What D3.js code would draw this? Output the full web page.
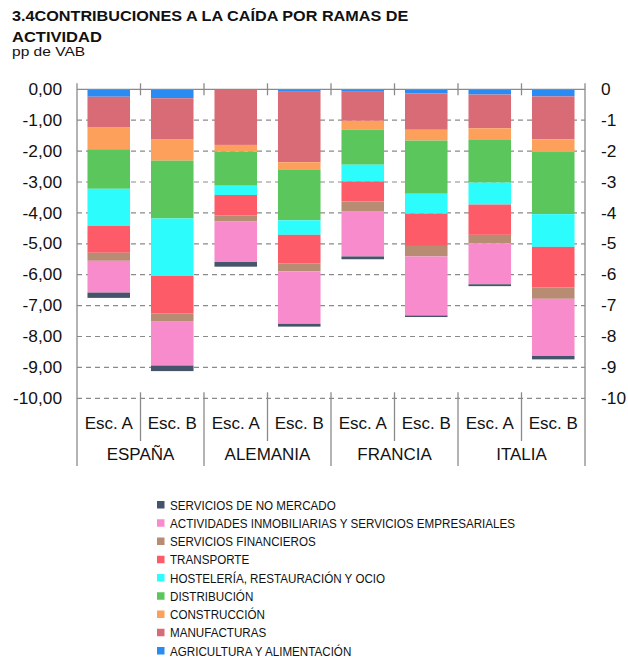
<!DOCTYPE html>
<html>
<head>
<meta charset="utf-8">
<script src="https://cdn.jsdelivr.net/npm/d3@7"></script>
<style>
  body { margin: 0; background: #fff; }
  svg { display: block; }
  text { font-family: "Liberation Sans", Arial, sans-serif; fill: #111; }
</style>
</head>
<body>
<svg id="chart" width="628" height="662"></svg>
<script>
// ---- data (pp de VAB) ----
const countries = ["ESPAÑA", "ALEMANIA", "FRANCIA", "ITALIA"];
const scenarios = ["Esc. A", "Esc. B"];

// Sectors in stacking order (from 0 downwards)
const sectors = [
  "AGRICULTURA Y ALIMENTACIÓN",
  "MANUFACTURAS",
  "CONSTRUCCIÓN",
  "DISTRIBUCIÓN",
  "HOSTELERÍA, RESTAURACIÓN Y OCIO",
  "TRANSPORTE",
  "SERVICIOS FINANCIEROS",
  "ACTIVIDADES INMOBILIARIAS Y SERVICIOS EMPRESARIALES",
  "SERVICIOS DE NO MERCADO"
];
const sectorColors = [
  "#2a8cf2", "#d96b77", "#fda05c", "#5bc65b", "#2dfcfc",
  "#fe5b69", "#b78c73", "#f88bcb", "#44546a"
];

// Contributions per bar: ES A, ES B, DE A, DE B, FR A, FR B, IT A, IT B
const agricultura    = [-0.24, -0.29, -0.02, -0.08, -0.08, -0.13, -0.17, -0.23];
const manufacturas   = [-1.00, -1.32, -1.78, -2.28, -0.94, -1.18, -1.09, -1.39];
const construccion   = [-0.70, -0.70, -0.22, -0.25, -0.29, -0.35, -0.38, -0.41];
const distribucion   = [-1.28, -1.87, -1.10, -1.63, -1.13, -1.72, -1.38, -2.01];
const hosteleria     = [-1.20, -1.86, -0.30, -0.47, -0.54, -0.64, -0.71, -1.06];
const transporte     = [-0.87, -1.21, -0.66, -0.93, -0.65, -1.05, -0.98, -1.31];
const financieros    = [-0.26, -0.27, -0.20, -0.25, -0.31, -0.34, -0.27, -0.37];
const inmobiliarias  = [-1.03, -1.42, -1.31, -1.70, -1.47, -1.91, -1.33, -1.85];
const noMercado      = [-0.17, -0.18, -0.15, -0.09, -0.09, -0.05, -0.06, -0.11];
const sectorValues = [agricultura, manufacturas, construccion, distribucion, hosteleria,
                      transporte, financieros, inmobiliarias, noMercado];

const yTicks = [0, -1, -2, -3, -4, -5, -6, -7, -8, -9, -10];

// ---- layout ----
const svg = d3.select("#chart");
const plot = { left: 77, right: 585, top: 89.3, bottom: 398.3 };
const axisBottomEnd = 466;
const gridColor = "#8a8a8a";

const bars = countries.flatMap((c, ci) => scenarios.map((s, si) => {
  const row = { key: c + "|" + s, country: c, scenario: s };
  sectors.forEach((sec, k) => { row[sec] = sectorValues[k][ci * scenarios.length + si]; });
  return row;
}));

const x = d3.scaleBand()
  .domain(bars.map(d => d.key))
  .range([plot.left, plot.right])
  .paddingInner(0.33)
  .paddingOuter(0.165);
const step = x.step();

const y = d3.scaleLinear().domain([-10, 0]).range([plot.bottom, plot.top]);

const color = d3.scaleOrdinal().domain(sectors).range(sectorColors);

const esLocale = d3.formatLocale({ decimal: ",", thousands: ".", grouping: [3], currency: ["", " €"], minus: "-" });
const fmtLeft = esLocale.format(".2f");
const fmtRight = esLocale.format("d");

// stretch text horizontally by a factor
function stretch(sel, k) {
  sel.each(function () {
    const w = this.getComputedTextLength();
    this.setAttribute("textLength", (w * k).toFixed(1));
    this.setAttribute("lengthAdjust", "spacingAndGlyphs");
  });
}

// ---- title ----
const title = svg.append("g");
title.append("text").attr("x", 12).attr("y", 21)
  .style("font-weight", "bold").style("font-size", "15px")
  .text("3.4CONTRIBUCIONES A LA CAÍDA POR RAMAS DE").call(stretch, 1.08);
title.append("text").attr("x", 12).attr("y", 41.5)
  .style("font-weight", "bold").style("font-size", "15px")
  .text("ACTIVIDAD").call(stretch, 1.1);
title.append("text").attr("x", 12).attr("y", 56)
  .style("font-size", "13.5px")
  .text("pp de VAB").call(stretch, 1.15);

// ---- gridlines ----
svg.append("g").selectAll("line")
  .data(yTicks.filter(t => t !== 0))
  .join("line")
  .attr("x1", plot.left).attr("x2", plot.right)
  .attr("y1", d => y(d)).attr("y2", d => y(d))
  .attr("stroke", gridColor).attr("stroke-width", 1.2)
  .attr("stroke-dasharray", "5,4");

// ---- stacked bars ----
const stack = d3.stack().keys(sectors).value((d, k) => d[k]).offset(d3.stackOffsetDiverging);
const series = stack(bars);

svg.append("g").selectAll("g")
  .data(series)
  .join("g")
  .attr("fill", s => color(s.key))
  .selectAll("rect")
  .data(s => s)
  .join("rect")
  .attr("x", d => x(d.data.key))
  .attr("width", x.bandwidth())
  .attr("y", d => y(Math.max(d[0], d[1])))
  .attr("height", d => Math.abs(y(d[0]) - y(d[1])));

// ---- frame, zero line, separators ----
const frame = svg.append("g").attr("stroke", gridColor).attr("stroke-width", 1.3);
frame.append("line")
  .attr("x1", plot.left).attr("x2", plot.right)
  .attr("y1", y(0)).attr("y2", y(0));

const boundaries = d3.range(bars.length + 1).map(i => plot.left + i * step);
// short ticks on the zero line between bars
frame.selectAll("line.topTick")
  .data(boundaries.slice(1, -1))
  .join("line").attr("class", "topTick")
  .attr("x1", d => d).attr("x2", d => d)
  .attr("y1", y(0) - 6).attr("y2", y(0) + 6);
// separators under the plot: scenario ones shorter, country ones down to the bottom
frame.selectAll("line.sep")
  .data(boundaries)
  .join("line").attr("class", "sep")
  .attr("x1", d => d).attr("x2", d => d)
  .attr("y1", (d, i) => (i === 0 || i === boundaries.length - 1) ? y(0) - 6 : y(-10) - 6)
  .attr("y2", (d, i) => i % scenarios.length === 0 ? axisBottomEnd : 441);

// ---- y axes ----
const leftAxis = svg.append("g")
  .attr("transform", `translate(${plot.left},0)`)
  .call(d3.axisLeft(y).tickValues(yTicks).tickFormat(fmtLeft).tickSize(0).tickPadding(15));
leftAxis.select(".domain").remove();
leftAxis.selectAll("text")
  .style("font-size", "16px").style("font-family", "\"Liberation Sans\", Arial, sans-serif")
  .attr("fill", "#111").call(stretch, 1.08);

const rightAxis = svg.append("g")
  .attr("transform", `translate(${plot.right},0)`)
  .call(d3.axisRight(y).tickValues(yTicks).tickFormat(fmtRight).tickSize(0).tickPadding(16));
rightAxis.select(".domain").remove();
rightAxis.selectAll("text")
  .style("font-size", "16px").style("font-family", "\"Liberation Sans\", Arial, sans-serif")
  .attr("fill", "#111").call(stretch, 1.08);

// ---- category labels ----
svg.append("g").selectAll("text")
  .data(bars)
  .join("text")
  .attr("x", d => x(d.key) + x.bandwidth() / 2)
  .attr("y", 429)
  .attr("text-anchor", "middle")
  .style("font-size", "16.5px")
  .text(d => d.scenario).call(stretch, 1.03);

svg.append("g").selectAll("text")
  .data(countries)
  .join("text")
  .attr("x", (d, i) => plot.left + (i + 0.5) * step * scenarios.length)
  .attr("y", 460)
  .attr("text-anchor", "middle")
  .style("font-size", "16px")
  .text(d => d).call(stretch, 1.06);

// ---- legend ----
const legendItems = sectors.slice().reverse();
const legend = svg.append("g").attr("transform", "translate(157,505)");
const li = legend.selectAll("g")
  .data(legendItems)
  .join("g")
  .attr("transform", (d, i) => `translate(0,${i * 18.25})`);
li.append("rect")
  .attr("x", 0).attr("y", -4).attr("width", 7.5).attr("height", 7.5)
  .attr("fill", d => color(d));
li.append("text")
  .attr("x", 13).attr("y", 4.5)
  .style("font-size", "12.5px")
  .text(d => d).call(stretch, 0.93);
</script>
</body>
</html>
